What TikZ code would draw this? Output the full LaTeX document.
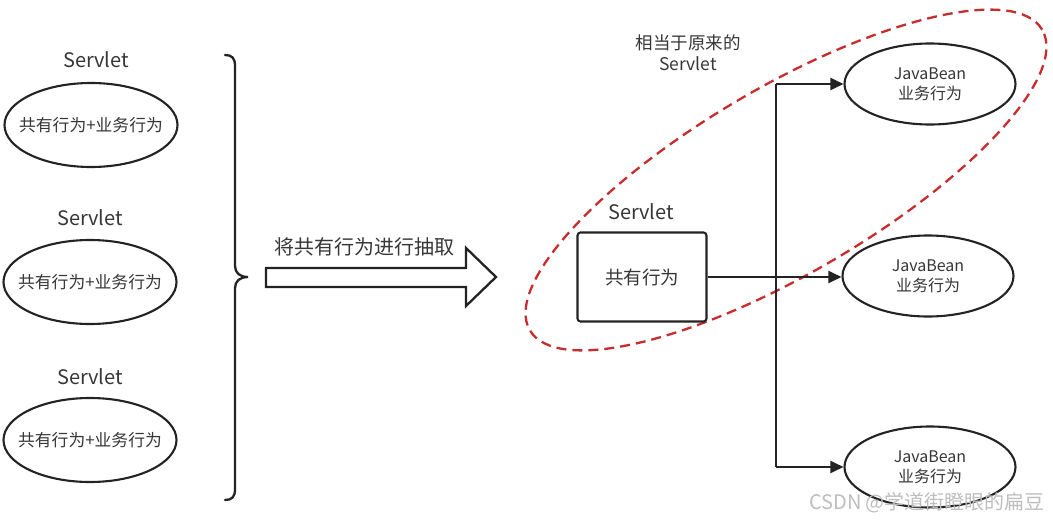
\documentclass[tikz,border=0pt]{standalone}
\usepackage{fontspec}
\setmainfont{Noto Sans CJK SC}
\usetikzlibrary{shapes.geometric,arrows.meta}
\definecolor{ink}{RGB}{35,35,35}
\definecolor{txt}{RGB}{55,55,55}
\definecolor{dred}{RGB}{200,45,45}
\definecolor{wm}{RGB}{190,190,190}
\begin{document}
\begin{tikzpicture}[x=1pt,y=-1pt,
  lbl/.style={text=txt,font=\fontsize{20}{24}\selectfont,inner sep=0pt},
  oval/.style={ellipse,draw=ink,line width=2.1pt,minimum width=173pt,minimum height=84pt,inner sep=0pt,text=txt,font=\fontsize{16.8}{20}\selectfont},
  bean/.style={ellipse,draw=ink,line width=2.1pt,minimum width=171pt,minimum height=81pt,inner sep=0pt,text=txt,align=center,font=\fontsize{16}{20}\selectfont},
  sbox/.style={rectangle,rounded corners=3pt,draw=ink,line width=2.1pt,minimum width=129pt,minimum height=89pt,inner sep=0pt,text=txt,font=\fontsize{18.5}{22}\selectfont},
  conn/.style={draw=ink,line width=2.3pt},
  arr/.style={conn,-{Triangle[length=13pt,width=12pt]}},
  reddash/.style={draw=dred,line width=2.3pt,dash pattern=on 10pt off 6pt}
]
\useasboundingbox (0,0) rectangle (1053,522);
\fill[white] (0,0) rectangle (1053,522);

% left column
\node[lbl] (s1) at (96,60) {Servlet};
\node[oval] (o1) at (91,125) {\makebox[0pt]{共有行为+业务行为}};
\node[lbl] (s2) at (90,218) {Servlet};
\node[oval] (o2) at (90,282) {\makebox[0pt]{共有行为+业务行为}};
\node[lbl] (s3) at (90,377) {Servlet};
\node[oval] (o3) at (90,440) {\makebox[0pt]{共有行为+业务行为}};

% brace
\draw[ink,line width=2.3pt,line cap=round]
  (225,55) .. controls (232,55) and (235,58) .. (235,66)
  -- (235,266) .. controls (235,273) and (240,277) .. (248,277)
  .. controls (240,277) and (235,281) .. (235,288)
  -- (235,489) .. controls (235,497) and (232,500) .. (225,500);

% block arrow
\node[lbl] (t1) at (364,247) {将共有行为进行抽取};
\draw[ink,line width=2.3pt,line join=miter,fill=white]
  (266,268) -- (466,268) -- (466,248) -- (496,277) -- (466,306) -- (466,287) -- (266,287) -- cycle;

% right part
\draw[reddash,rotate around={30.4:(786,180)}] (786,180) ellipse [x radius=297pt, y radius=93pt];
\node[lbl,align=center,font=\fontsize{17.5}{21}\selectfont] (t2) at (688,53) {相当于原来的\\Servlet};
\node[lbl] (s4) at (641,212) {Servlet};
\node[sbox] (sv) at (642,277) {共有行为};
\node[bean] (j1) at (930,84) {JavaBean\\业务行为};
\node[bean] (j2) at (928,276) {JavaBean\\业务行为};
\node[bean] (j3) at (930,467) {JavaBean\\业务行为};

\coordinate (ct) at (776,84);
\coordinate (cb) at (776,467);
\draw[conn] (ct) -- (cb);
\draw[arr] (ct) -- (j1);
\draw[arr] (cb) -- (j3);
\draw[arr] (sv.east) -- (j2.west |- sv.east);

% watermark
\node[text=wm,font=\fontsize{20}{24}\selectfont,inner sep=0pt] (wmk) at (927,503) {CSDN @学道街瞪眼的扁豆};
\end{tikzpicture}
\end{document}
